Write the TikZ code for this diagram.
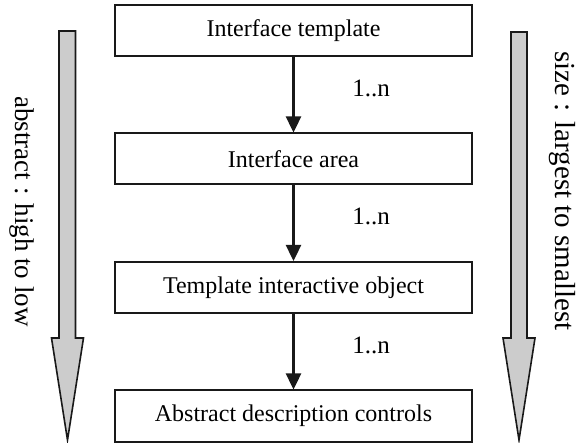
\documentclass[tikz,border=0pt]{standalone}
\usepackage{fontspec}
\setmainfont{Liberation Serif}
\usetikzlibrary{arrows.meta}
\begin{document}
\begin{tikzpicture}[x=1pt,y=-1pt,
  every node/.style={font=\fontsize{24}{28}\selectfont},
  levelbox/.style={draw=black!90, line width=2pt, minimum width=357pt, minimum height=51pt, inner sep=0pt},
  link/.style={line width=2.4pt, draw=black!90, -{Triangle[width=15pt,length=16pt]}},
  bigarrow/.style={fill=black!20, draw=black!90, line width=1.6pt, line join=miter},
  multlabel/.style={inner sep=0pt, font=\fontsize{25}{28}\selectfont},
  sidetext/.style={rotate=-90, inner sep=0pt}]
\useasboundingbox (0,0) rectangle (581,443);
\node[levelbox] (t1) at (293.5,31) {Interface template};
\node[levelbox] (t2) at (293.5,159) {Interface area};
\node[levelbox] (t3) at (293.5,287.5) {Template interactive object};
\node[levelbox] (t4) at (293.5,416) {Abstract description controls};
\draw[link] (t1) -- (t2);
\draw[link] (t2) -- (t3);
\draw[link] (t3) -- (t4);
\node[multlabel] (m1) at (371,88) {1..n};
\node[multlabel] (m2) at (371,216) {1..n};
\node[multlabel] (m3) at (371,345) {1..n};
% left big arrow
\draw[bigarrow] (59,31) -- (75.5,31) -- (75.5,338) -- (83.5,338) -- (67.5,440) -- (51.5,338) -- (59,338) -- cycle;
% right big arrow
\draw[bigarrow] (511,32) -- (527,32) -- (527,338) -- (535,338) -- (519,440) -- (503,338) -- (511,338) -- cycle;
\node[sidetext, font=\fontsize{27}{30}\selectfont] (lt) at (22,211.5) {abstract : high to low};
\node[sidetext, font=\fontsize{29}{32}\selectfont] (rt) at (562,191) {size : largest to smallest};
\end{tikzpicture}
\end{document}
